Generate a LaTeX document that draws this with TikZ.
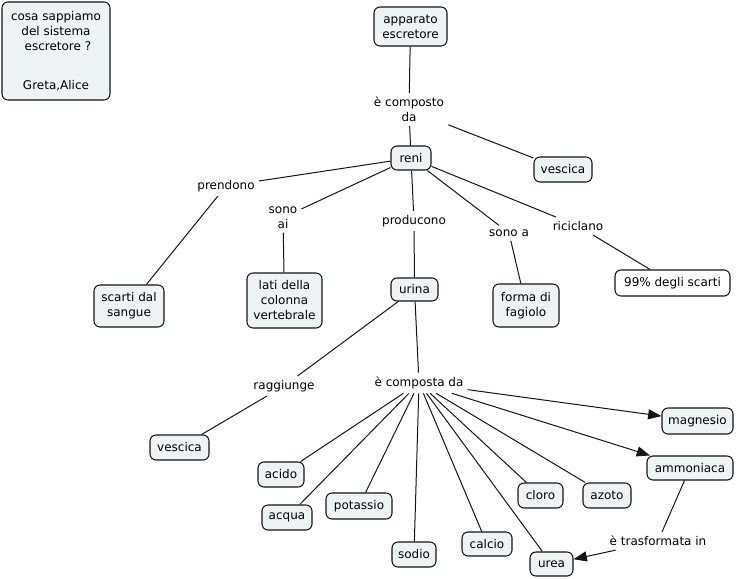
\documentclass[tikz,border=0pt]{standalone}
\usepackage{fontspec}
\setmainfont{DejaVu Sans}
\usetikzlibrary{arrows.meta}
\definecolor{boxfill}{RGB}{238,243,245}
\definecolor{edgecol}{RGB}{20,20,20}
\begin{document}
\begin{tikzpicture}[x=0.75pt,y=-0.75pt,
  every node/.style={font=\fontsize{9}{11.25}\selectfont, align=center, text=black},
  bx/.style 2 args={draw=edgecol, line width=0.8pt, rounded corners=4.5pt, fill=boxfill,
     minimum width=0.75pt*#1, minimum height=0.75pt*#2, inner sep=0pt},
  wbx/.style 2 args={bx={#1}{#2}, fill=white},
  lab/.style={inner sep=3pt},
  conn/.style={draw=edgecol, line width=0.75pt},
  arr/.style={conn, -{Triangle[length=10pt,width=7.5pt]}}]
\useasboundingbox (0,0) rectangle (737,578);

% title box
\node[bx={108}{98}] (title) at (56,51) {};
\node (t1) at (56,31) {cosa sappiamo\\del sistema\\\ escretore ?};
\node (t2) at (56,86) {Greta,Alice};

% concept boxes
\node[bx={73}{39}] (app) at (410.5,26.5) {apparato\\escretore};
\node[bx={40}{24}] (reni) at (411,158) {reni};
\node[bx={58}{25}] (ves1) at (563,169.5) {vescica};
\node[bx={70}{42}] (scarti) at (129,306) {scarti dal\\sangue};
\node[bx={75}{55}] (lati) at (284.5,300.5) {lati della\\colonna\\vertebrale};
\node[bx={47}{23}] (urina) at (414.5,289.5) {urina};
\node[bx={66}{43}] (forma) at (526,305.5) {forma di\\fagiolo};
\node[wbx={115}{26}] (perc) at (672.5,283) {99\% degli scarti};
\node[bx={59}{25}] (ves2) at (179.5,447.5) {vescica};
\node[bx={71}{26}] (magn) at (697.5,421) {magnesio};
\node[bx={86}{24}] (ammo) at (690,468) {ammoniaca};
\node[bx={46}{25}] (acido) at (281,474.5) {acido};
\node[bx={50}{25}] (acqua) at (287,517.5) {acqua};
\node[bx={66}{26}] (pota) at (359,506) {potassio};
\node[bx={44}{25}] (sodio) at (414,554.5) {sodio};
\node[bx={50}{24}] (calcio) at (487,544) {calcio};
\node[bx={45}{25}] (cloro) at (540.5,495.5) {cloro};
\node[bx={48}{25}] (azoto) at (607,495.5) {azoto};
\node[bx={43}{24}] (urea) at (551.5,564) {urea};

% linking phrases
\node[lab] (lcomp) at (409,109.5) {è composto\\da};
\node[lab] (lpren) at (226,186) {prendono};
\node[lab] (lsono) at (283,217.5) {sono\\ai};
\node[lab] (lprod) at (414,221) {producono};
\node[lab] (lsonoa) at (509,233) {sono a};
\node[lab] (lrici) at (578,226) {riciclano};
\node[lab] (lragg) at (284,386) {raggiunge};
\node[lab] (lcompa) at (419,383) {è composta da};
\node[lab] (ltras) at (658,541) {è trasformata in};

% connectors
\draw[conn] (app) -- (lcomp);
\draw[conn] (lcomp) -- (reni);
\draw[conn] (lcomp) -- (ves1);
\draw[conn] (reni) -- (lpren);
\draw[conn] (lpren) -- (scarti);
\draw[conn] (reni) -- (lsono);
\draw[conn] (lsono) -- (lati);
\draw[conn] (reni) -- (lprod);
\draw[conn] (lprod) -- (urina);
\draw[conn] (reni) -- (lsonoa);
\draw[conn] (lsonoa) -- (forma);
\draw[conn] (reni) -- (lrici);
\draw[conn] (lrici) -- (perc);
\draw[conn] (urina) -- (lragg);
\draw[conn] (lragg) -- (ves2);
\draw[conn] (urina) -- (lcompa);
\draw[conn] (lcompa) -- (acido);
\draw[conn] (lcompa) -- (acqua);
\draw[conn] (lcompa) -- (pota);
\draw[conn] (lcompa) -- (sodio);
\draw[conn] (lcompa) -- (calcio);
\draw[conn] (lcompa) -- (urea);
\draw[conn] (lcompa) -- (cloro);
\draw[conn] (lcompa) -- (azoto);
\draw[arr] (lcompa) -- (magn);
\draw[arr] (lcompa) -- (ammo);
\draw[conn] (ammo) -- (ltras);
\draw[arr] (ltras) -- (urea);
\end{tikzpicture}
\end{document}
